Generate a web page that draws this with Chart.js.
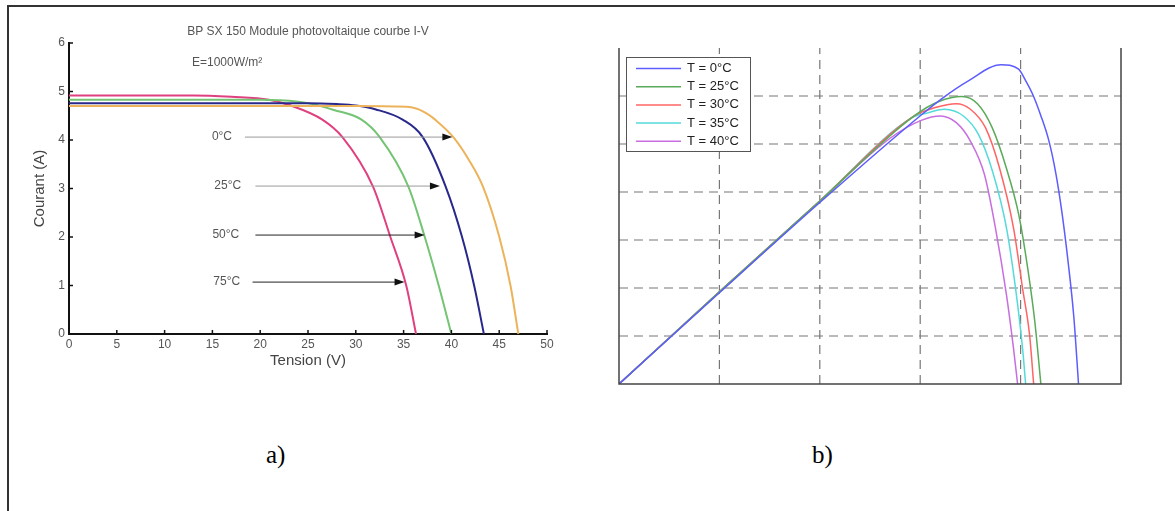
<!DOCTYPE html>
<html>
<head>
<meta charset="utf-8">
<script src="https://cdn.jsdelivr.net/npm/chart.js@4.4.1/dist/chart.umd.min.js"></script>
<style>
  body { margin: 0; background: #fff; width: 1175px; height: 511px; position: relative; overflow: hidden; }
  #frame { position: absolute; left: 7px; top: 5px; width: 1200px; height: 600px; border-left: 2px solid #333; border-top: 2px solid #333; }
  canvas { position: absolute; }
  #iv { left: 20px; top: 20px; }
  #pv { left: 600px; top: 30px; }
  .cap { position: absolute; top: 442px; font-family: "Liberation Serif", "Times New Roman", serif; font-size: 25px; line-height: 25px; color: #000; }
</style>
</head>
<body>
<div id="frame"></div>
<canvas id="iv" width="560" height="360"></canvas>
<canvas id="pv" width="540" height="370"></canvas>
<div class="cap" style="left:266px">a)</div>
<div class="cap" style="left:812px">b)</div>
<script>
// ---- a) I-V curves, BP SX 150 (V, A)
const ivLabels = ['0°C', '25°C', '50°C', '75°C'];
const ivColors = ['#ecb35a', '#28288c', '#74c474', '#e0407f'];
const iv0V = [0, 30, 34, 35.9, 37.4, 38.3, 40.2, 41.8, 43.3, 45.0, 46.2, 47.0];
const iv0I = [4.70, 4.70, 4.69, 4.67, 4.55, 4.42, 4.06, 3.60, 3.04, 2.01, 0.98, 0];
const iv25V = [0, 25, 28, 30, 32.1, 34.9, 37.0, 39.4, 41.1, 42.4, 43.4];
const iv25I = [4.76, 4.76, 4.74, 4.71, 4.63, 4.42, 4.06, 3.04, 2.01, 0.98, 0];
const iv50V = [0, 20, 24, 25.5, 27.7, 30.6, 32.5, 35.5, 37.2, 38.7, 40.0];
const iv50I = [4.83, 4.83, 4.79, 4.74, 4.62, 4.42, 4.06, 3.04, 2.01, 0.98, 0];
const iv75V = [0, 13, 17, 20.9, 23.2, 26.5, 28.6, 31.8, 33.6, 35.3, 36.3];
const iv75I = [4.92, 4.92, 4.89, 4.83, 4.71, 4.42, 4.06, 3.04, 2.01, 0.98, 0];
const ivXs = [iv0V, iv25V, iv50V, iv75V];
const ivYs = [iv0I, iv25I, iv50I, iv75I];

// arrows pointing at each curve
const arrowI = [4.06, 3.05, 2.04, 1.07];
const arrowFrom = [18.4, 19.5, 19.5, 19.2];
const arrowTo = [40.1, 38.8, 37.2, 35.1];
const arrowLabelV = [16.0, 16.6, 16.4, 16.5];
const arrowColors = ['#9a9a9a', '#9a9a9a', '#222', '#222'];

// ---- b) P-V curves (V, W)
const pvLabels = ['T = 0°C', 'T = 25°C', 'T = 30°C', 'T = 35°C', 'T = 40°C'];
const pvColors = ['#5c5cff', '#5aaa5a', '#ff6464', '#55dada', '#c86ee0'];
const pv0V = [0, 10, 20, 30.1, 32.3, 34.8, 38.05, 39.8, 40.5, 41.2, 42.0, 42.8, 43.5, 44.1, 44.7, 45.3, 45.77];
const pv0P = [0, 47.5, 94.5, 140.1, 149.2, 157.9, 166.3, 164, 158, 150.9, 140, 127, 110, 90, 65, 35, 0];
const pv25V = [0, 10, 20, 29.4, 31.86, 34.16, 35.75, 37.17, 38.58, 39.82, 40.71, 41.42, 42.02];
const pv25P = [0, 48, 95.3, 139.6, 147.1, 149.7, 145.7, 133.5, 112.5, 88.1, 60.2, 32.3, 0];
const pv30V = [0, 10, 20, 29.4, 31.5, 33.6, 35.0, 36.5, 37.9, 39.3, 40.2, 40.9, 41.3];
const pv30P = [0, 48, 95.3, 139.6, 144, 146, 143.1, 133.5, 112.5, 81.1, 49.7, 25.3, 0];
const pv35V = [0, 10, 20, 29.2, 30.8, 32.4, 34.3, 35.8, 37.2, 38.6, 39.5, 40.2, 40.5];
const pv35P = [0, 48, 95.3, 138.8, 141.3, 143.1, 139.6, 130, 110.8, 81.1, 49.7, 18.3, 0];
const pv40V = [0, 10, 20, 27, 30.1, 32.0, 33.6, 35.0, 36.4, 37.5, 38.6, 39.3, 39.7];
const pv40P = [0, 48, 95.3, 128, 137.3, 139.6, 136.1, 126.5, 109.1, 81.1, 46.2, 18.3, 0];
const pvXs = [pv0V, pv25V, pv30V, pv35V, pv40V];
const pvYs = [pv0P, pv25P, pv30P, pv35P, pv40P];

const xyPoints = (xs, ys) => xs.map((v, i) => ({ x: v, y: ys[i] }));
const font = '"Liberation Sans", Arial, sans-serif';

// inward ticks, arrows and annotations for a)
const ivDecor = {
  id: 'ivDecor',
  afterDraw(chart) {
    const { ctx, chartArea: ca, scales: { x, y } } = chart;
    ctx.save();
    ctx.strokeStyle = '#111';
    ctx.lineWidth = 1.5;
    x.ticks.forEach(t => {
      const px = x.getPixelForValue(t.value);
      ctx.beginPath(); ctx.moveTo(px, ca.bottom); ctx.lineTo(px, ca.bottom - 4); ctx.stroke();
    });
    y.ticks.forEach(t => {
      const py = y.getPixelForValue(t.value);
      ctx.beginPath(); ctx.moveTo(ca.left, py); ctx.lineTo(ca.left + 4, py); ctx.stroke();
    });

    ctx.font = '12px ' + font;
    ctx.fillStyle = '#555';
    ctx.textBaseline = 'middle';
    ctx.textAlign = 'center';
    ctx.fillText('BP SX 150 Module photovoltaique courbe I-V', x.getPixelForValue(25), 12);
    ctx.textAlign = 'left';
    ctx.fillText('E=1000W/m²', 172, 43);

    arrowI.forEach((a, i) => {
      const py = y.getPixelForValue(a);
      const x1 = x.getPixelForValue(arrowFrom[i]);
      const x2 = x.getPixelForValue(arrowTo[i]);
      ctx.strokeStyle = arrowColors[i];
      ctx.lineWidth = 1;
      ctx.beginPath(); ctx.moveTo(x1, py); ctx.lineTo(x2 - 8, py); ctx.stroke();
      ctx.fillStyle = '#111';
      ctx.beginPath();
      ctx.moveTo(x2, py); ctx.lineTo(x2 - 10, py - 3.5); ctx.lineTo(x2 - 10, py + 3.5);
      ctx.closePath(); ctx.fill();
      ctx.fillStyle = '#555';
      ctx.textAlign = 'center';
      ctx.fillText(ivLabels[i], x.getPixelForValue(arrowLabelV[i]), py);
    });
    ctx.restore();
  }
};

new Chart(document.getElementById('iv'), {
  type: 'scatter',
  data: {
    datasets: ivXs.map((xs, i) => ({
      label: ivLabels[i],
      data: xyPoints(xs, ivYs[i]),
      showLine: true,
      borderColor: ivColors[i],
      borderWidth: 2,
      pointRadius: 0,
      cubicInterpolationMode: 'monotone'
    }))
  },
  options: {
    responsive: false,
    animation: false,
    layout: { padding: { left: 0, top: 23, right: 33, bottom: 0 } },
    plugins: { legend: { display: false }, tooltip: { enabled: false } },
    scales: {
      x: {
        type: 'linear', min: 0, max: 50,
        ticks: { stepSize: 5, color: '#555', font: { size: 12, family: font }, padding: 3, maxRotation: 0 },
        grid: { drawOnChartArea: false, drawTicks: false },
        border: { color: '#111', width: 2 },
        title: { display: true, text: 'Tension (V)', color: '#444', font: { size: 15, family: font }, padding: { top: 0, bottom: 10 } },
        afterFit: s => { s.height = 46; }
      },
      y: {
        min: 0, max: 6,
        ticks: { stepSize: 1, color: '#555', font: { size: 12, family: font }, padding: 4 },
        grid: { drawOnChartArea: false, drawTicks: false },
        border: { color: '#111', width: 2 },
        title: { display: true, text: 'Courant (A)', color: '#444', font: { size: 15, family: font }, padding: { top: 11, bottom: 0 } },
        afterFit: s => { s.width = 49; }
      }
    }
  },
  plugins: [ivDecor]
});

// dashed grid, frame and legend box for b)
const pvGrid = {
  id: 'pvGrid',
  beforeDatasetsDraw(chart) {
    const { ctx, chartArea: ca, scales: { x, y } } = chart;
    ctx.save();
    ctx.strokeStyle = '#777';
    ctx.lineWidth = 1.2;
    ctx.setLineDash([9, 6]);
    [10, 20, 30, 40].forEach(v => {
      const px = x.getPixelForValue(v);
      ctx.beginPath(); ctx.moveTo(px, ca.bottom); ctx.lineTo(px, ca.top); ctx.stroke();
    });
    [25, 50, 75, 100, 125, 150].forEach(v => {
      const py = y.getPixelForValue(v);
      ctx.beginPath(); ctx.moveTo(ca.left, py); ctx.lineTo(ca.right, py); ctx.stroke();
    });
    ctx.restore();
  },
  afterDraw(chart) {
    const { ctx, chartArea: ca } = chart;
    ctx.save();
    ctx.strokeStyle = '#444';
    ctx.lineWidth = 1.5;
    ctx.beginPath();
    ctx.moveTo(ca.left, ca.top); ctx.lineTo(ca.left, ca.bottom);
    ctx.lineTo(ca.right, ca.bottom); ctx.lineTo(ca.right, ca.top);
    ctx.stroke();

    // legend
    const bx = ca.left + 7, by = ca.top + 9, bw = 124, bh = 94;
    ctx.fillStyle = '#fff';
    ctx.fillRect(bx, by, bw, bh);
    ctx.lineWidth = 1;
    ctx.strokeStyle = '#555';
    ctx.strokeRect(bx + 0.5, by + 0.5, bw, bh);
    ctx.font = '13px ' + font;
    ctx.textBaseline = 'middle';
    ctx.textAlign = 'left';
    pvLabels.forEach((lab, i) => {
      const ly = by + 11.5 + i * 18.2;
      ctx.strokeStyle = pvColors[i];
      ctx.lineWidth = 1.5;
      ctx.beginPath(); ctx.moveTo(bx + 10, ly); ctx.lineTo(bx + 55, ly); ctx.stroke();
      ctx.fillStyle = '#222';
      ctx.fillText(lab, bx + 61, ly);
    });
    ctx.restore();
  }
};

new Chart(document.getElementById('pv'), {
  type: 'scatter',
  data: {
    datasets: pvXs.map((xs, i) => ({
      label: pvLabels[i],
      data: xyPoints(xs, pvYs[i]),
      showLine: true,
      borderColor: pvColors[i],
      borderWidth: 1.5,
      pointRadius: 0,
      cubicInterpolationMode: 'monotone'
    }))
  },
  options: {
    responsive: false,
    animation: false,
    layout: { padding: { left: 19, top: 18, right: 19, bottom: 16 } },
    plugins: { legend: { display: false }, tooltip: { enabled: false } },
    scales: {
      x: { type: 'linear', min: 0, max: 50, display: false },
      y: { min: 0, max: 175, display: false }
    }
  },
  plugins: [pvGrid]
});
</script>
</body>
</html>
